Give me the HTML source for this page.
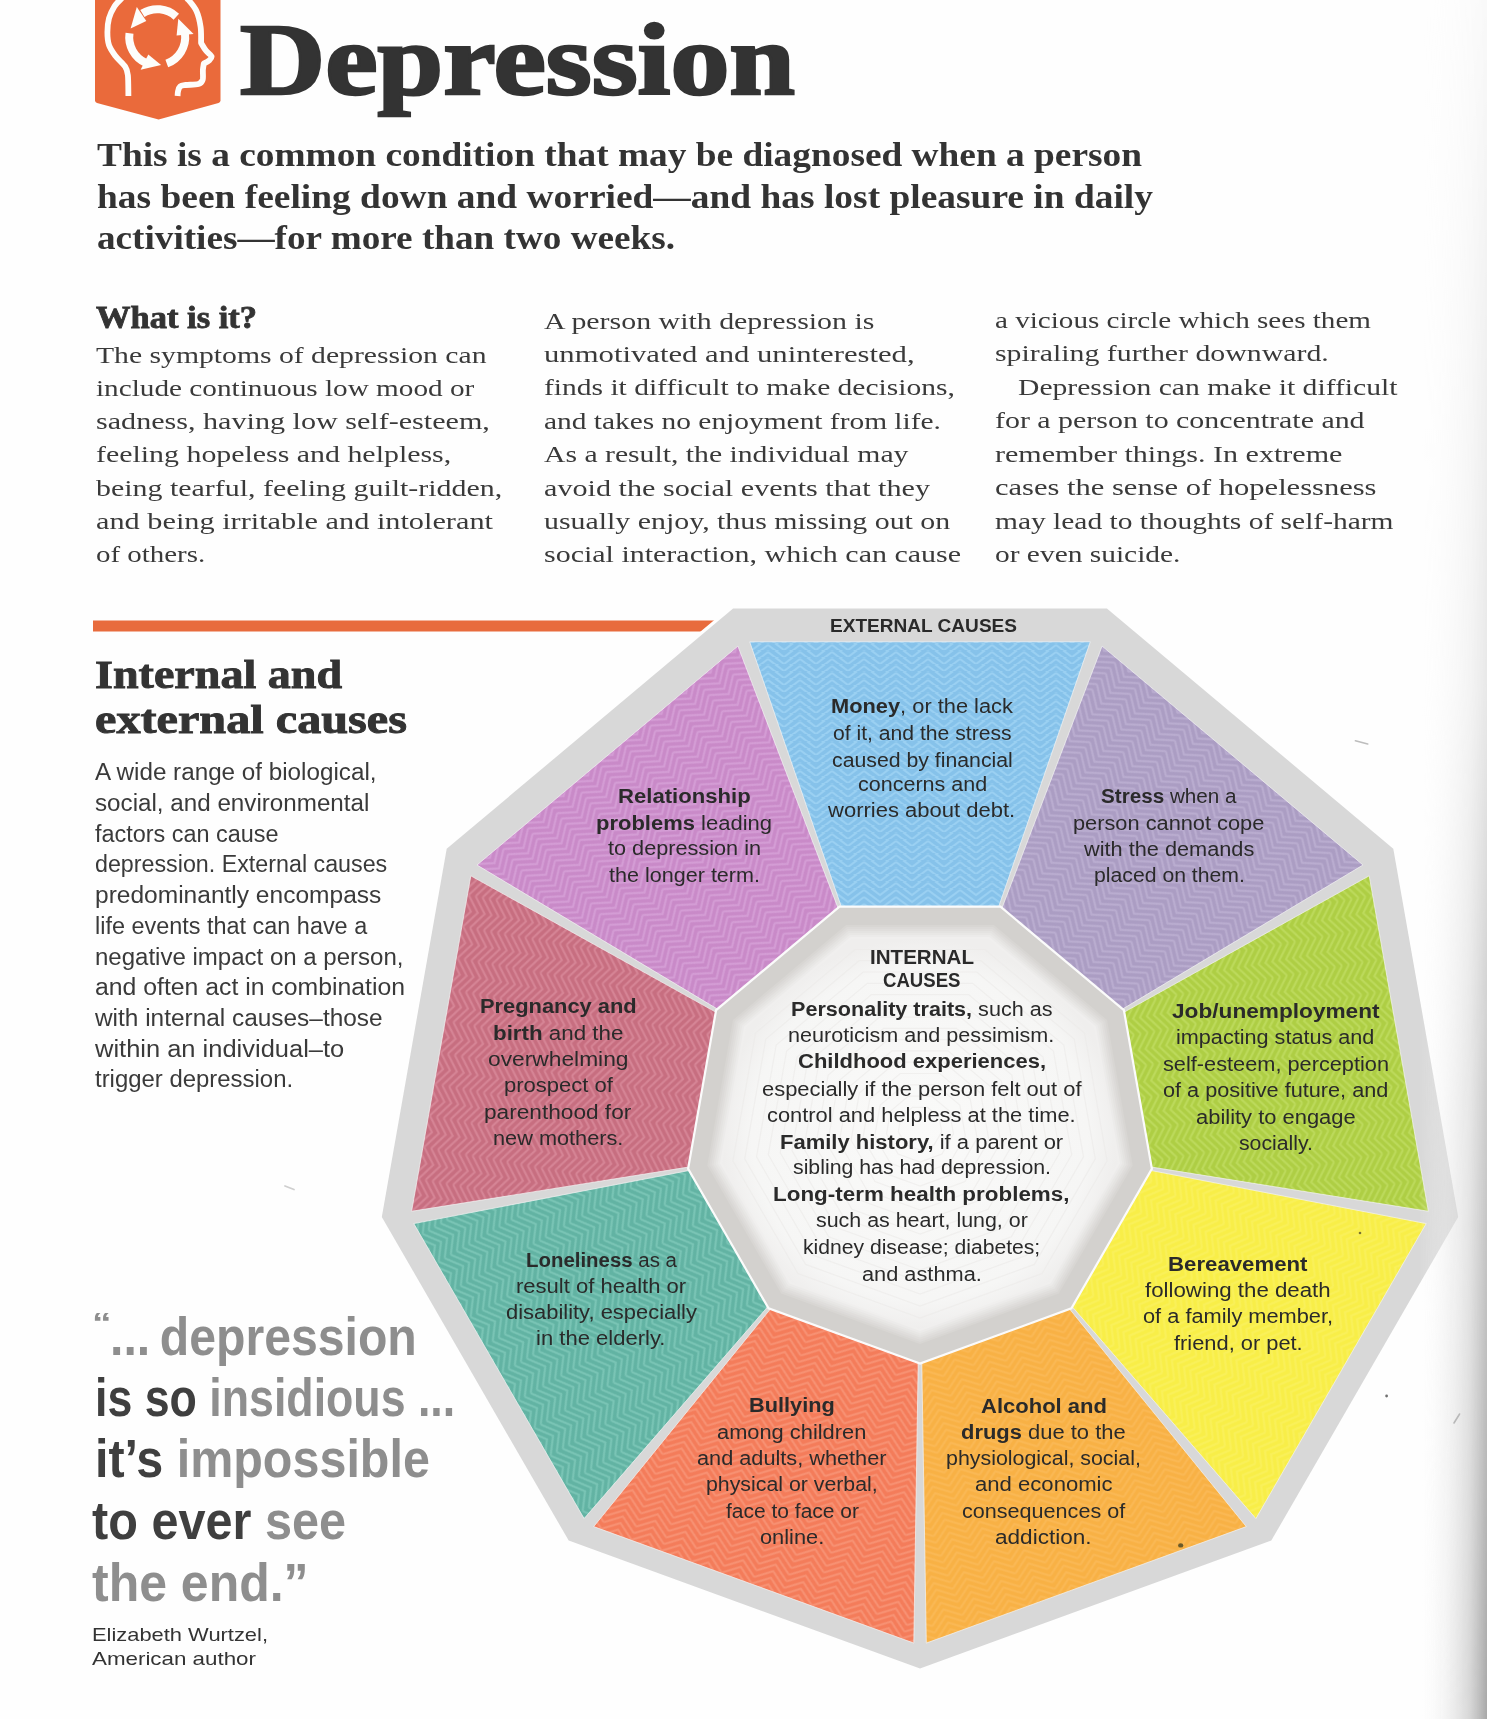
<!DOCTYPE html>
<html><head><meta charset="utf-8"><title>Depression</title>
<style>
html,body{margin:0;padding:0;background:#fefefe;}
#page{position:relative;width:1487px;height:1719px;overflow:hidden;background:#fefefe;}
.t{position:absolute;white-space:nowrap;line-height:1;transform-origin:0 0;}
.t b{font-weight:700;}
</style></head><body><div id="page">
<svg width="1487" height="1719" viewBox="0 0 1487 1719" style="position:absolute;left:0;top:0"><defs><pattern id="p0" width="32.0" height="7.0" patternUnits="userSpaceOnUse" patternTransform="rotate(20)"><rect width="32.0" height="7.0" fill="#f47c5a"/><g fill="none" stroke="#f99f84" stroke-width="2.1" opacity="0.6" stroke-linejoin="miter"><polyline points="0,-15.0 16.0,-27.0 32.0,-15.0"/><polyline points="0,-8.0 16.0,-20.0 32.0,-8.0"/><polyline points="0,-1.0 16.0,-13.0 32.0,-1.0"/><polyline points="0,6.0 16.0,-6.0 32.0,6.0"/><polyline points="0,13.0 16.0,1.0 32.0,13.0"/><polyline points="0,20.0 16.0,8.0 32.0,20.0"/><polyline points="0,27.0 16.0,15.0 32.0,27.0"/><polyline points="0,34.0 16.0,22.0 32.0,34.0"/></g></pattern><pattern id="p1" width="32.0" height="7.0" patternUnits="userSpaceOnUse" patternTransform="rotate(60)"><rect width="32.0" height="7.0" fill="#62b3a3"/><g fill="none" stroke="#8ad0c2" stroke-width="2.1" opacity="0.6" stroke-linejoin="miter"><polyline points="0,-15.0 16.0,-27.0 32.0,-15.0"/><polyline points="0,-8.0 16.0,-20.0 32.0,-8.0"/><polyline points="0,-1.0 16.0,-13.0 32.0,-1.0"/><polyline points="0,6.0 16.0,-6.0 32.0,6.0"/><polyline points="0,13.0 16.0,1.0 32.0,13.0"/><polyline points="0,20.0 16.0,8.0 32.0,20.0"/><polyline points="0,27.0 16.0,15.0 32.0,27.0"/><polyline points="0,34.0 16.0,22.0 32.0,34.0"/></g></pattern><pattern id="p2" width="32.0" height="7.0" patternUnits="userSpaceOnUse" patternTransform="rotate(100)"><rect width="32.0" height="7.0" fill="#c76e80"/><g fill="none" stroke="#e094a4" stroke-width="2.1" opacity="0.6" stroke-linejoin="miter"><polyline points="0,-15.0 16.0,-27.0 32.0,-15.0"/><polyline points="0,-8.0 16.0,-20.0 32.0,-8.0"/><polyline points="0,-1.0 16.0,-13.0 32.0,-1.0"/><polyline points="0,6.0 16.0,-6.0 32.0,6.0"/><polyline points="0,13.0 16.0,1.0 32.0,13.0"/><polyline points="0,20.0 16.0,8.0 32.0,20.0"/><polyline points="0,27.0 16.0,15.0 32.0,27.0"/><polyline points="0,34.0 16.0,22.0 32.0,34.0"/></g></pattern><pattern id="p3" width="32.0" height="7.0" patternUnits="userSpaceOnUse" patternTransform="rotate(140)"><rect width="32.0" height="7.0" fill="#c98ac8"/><g fill="none" stroke="#dcaade" stroke-width="2.1" opacity="0.6" stroke-linejoin="miter"><polyline points="0,-15.0 16.0,-27.0 32.0,-15.0"/><polyline points="0,-8.0 16.0,-20.0 32.0,-8.0"/><polyline points="0,-1.0 16.0,-13.0 32.0,-1.0"/><polyline points="0,6.0 16.0,-6.0 32.0,6.0"/><polyline points="0,13.0 16.0,1.0 32.0,13.0"/><polyline points="0,20.0 16.0,8.0 32.0,20.0"/><polyline points="0,27.0 16.0,15.0 32.0,27.0"/><polyline points="0,34.0 16.0,22.0 32.0,34.0"/></g></pattern><pattern id="p4" width="32.0" height="7.0" patternUnits="userSpaceOnUse" patternTransform="rotate(180)"><rect width="32.0" height="7.0" fill="#86c2ea"/><g fill="none" stroke="#a6d8f6" stroke-width="2.1" opacity="0.6" stroke-linejoin="miter"><polyline points="0,-15.0 16.0,-27.0 32.0,-15.0"/><polyline points="0,-8.0 16.0,-20.0 32.0,-8.0"/><polyline points="0,-1.0 16.0,-13.0 32.0,-1.0"/><polyline points="0,6.0 16.0,-6.0 32.0,6.0"/><polyline points="0,13.0 16.0,1.0 32.0,13.0"/><polyline points="0,20.0 16.0,8.0 32.0,20.0"/><polyline points="0,27.0 16.0,15.0 32.0,27.0"/><polyline points="0,34.0 16.0,22.0 32.0,34.0"/></g></pattern><pattern id="p5" width="32.0" height="7.0" patternUnits="userSpaceOnUse" patternTransform="rotate(220)"><rect width="32.0" height="7.0" fill="#ab9dc3"/><g fill="none" stroke="#c4b8d8" stroke-width="2.1" opacity="0.6" stroke-linejoin="miter"><polyline points="0,-15.0 16.0,-27.0 32.0,-15.0"/><polyline points="0,-8.0 16.0,-20.0 32.0,-8.0"/><polyline points="0,-1.0 16.0,-13.0 32.0,-1.0"/><polyline points="0,6.0 16.0,-6.0 32.0,6.0"/><polyline points="0,13.0 16.0,1.0 32.0,13.0"/><polyline points="0,20.0 16.0,8.0 32.0,20.0"/><polyline points="0,27.0 16.0,15.0 32.0,27.0"/><polyline points="0,34.0 16.0,22.0 32.0,34.0"/></g></pattern><pattern id="p6" width="32.0" height="7.0" patternUnits="userSpaceOnUse" patternTransform="rotate(260)"><rect width="32.0" height="7.0" fill="#aece44"/><g fill="none" stroke="#c6e26c" stroke-width="2.1" opacity="0.6" stroke-linejoin="miter"><polyline points="0,-15.0 16.0,-27.0 32.0,-15.0"/><polyline points="0,-8.0 16.0,-20.0 32.0,-8.0"/><polyline points="0,-1.0 16.0,-13.0 32.0,-1.0"/><polyline points="0,6.0 16.0,-6.0 32.0,6.0"/><polyline points="0,13.0 16.0,1.0 32.0,13.0"/><polyline points="0,20.0 16.0,8.0 32.0,20.0"/><polyline points="0,27.0 16.0,15.0 32.0,27.0"/><polyline points="0,34.0 16.0,22.0 32.0,34.0"/></g></pattern><pattern id="p7" width="32.0" height="7.0" patternUnits="userSpaceOnUse" patternTransform="rotate(300)"><rect width="32.0" height="7.0" fill="#f8ee48"/><g fill="none" stroke="#faf266" stroke-width="2.1" opacity="0.6" stroke-linejoin="miter"><polyline points="0,-15.0 16.0,-27.0 32.0,-15.0"/><polyline points="0,-8.0 16.0,-20.0 32.0,-8.0"/><polyline points="0,-1.0 16.0,-13.0 32.0,-1.0"/><polyline points="0,6.0 16.0,-6.0 32.0,6.0"/><polyline points="0,13.0 16.0,1.0 32.0,13.0"/><polyline points="0,20.0 16.0,8.0 32.0,20.0"/><polyline points="0,27.0 16.0,15.0 32.0,27.0"/><polyline points="0,34.0 16.0,22.0 32.0,34.0"/></g></pattern><pattern id="p8" width="32.0" height="7.0" patternUnits="userSpaceOnUse" patternTransform="rotate(340)"><rect width="32.0" height="7.0" fill="#f8b145"/><g fill="none" stroke="#fbbd5e" stroke-width="2.1" opacity="0.6" stroke-linejoin="miter"><polyline points="0,-15.0 16.0,-27.0 32.0,-15.0"/><polyline points="0,-8.0 16.0,-20.0 32.0,-8.0"/><polyline points="0,-1.0 16.0,-13.0 32.0,-1.0"/><polyline points="0,6.0 16.0,-6.0 32.0,6.0"/><polyline points="0,13.0 16.0,1.0 32.0,13.0"/><polyline points="0,20.0 16.0,8.0 32.0,20.0"/><polyline points="0,27.0 16.0,15.0 32.0,27.0"/><polyline points="0,34.0 16.0,22.0 32.0,34.0"/></g></pattern><radialGradient id="rg" cx="50%" cy="50%" r="50%"><stop offset="0" stop-color="#fafaf9"/><stop offset="0.85" stop-color="#f6f6f5"/><stop offset="1" stop-color="#efeeed"/></radialGradient><linearGradient id="edge" gradientUnits="userSpaceOnUse" x1="1418" x2="1487" y1="0" y2="0"><stop offset="0" stop-color="#ffffff" stop-opacity="0"/><stop offset="0.4" stop-color="#ececec" stop-opacity="0.6"/><stop offset="0.75" stop-color="#d2d2d2" stop-opacity="0.9"/><stop offset="1" stop-color="#a8a8a8" stop-opacity="1"/></linearGradient><linearGradient id="edgev" gradientUnits="userSpaceOnUse" x1="0" x2="0" y1="0" y2="1719"><stop offset="0" stop-color="#fff" stop-opacity="0.06"/><stop offset="0.4" stop-color="#fff" stop-opacity="0.25"/><stop offset="0.65" stop-color="#fff" stop-opacity="0.6"/><stop offset="1" stop-color="#fff" stop-opacity="1"/></linearGradient><mask id="em"><rect x="1400" y="0" width="87" height="1719" fill="url(#edgev)"/></mask></defs><rect x="93" y="620.5" width="628" height="11" fill="#e86b3d"/><path d="M95,0 L220.5,0 L220.5,100.5 Q220.5,102.3 218.5,102.9 L158.6,119.5 L97,102.9 Q95,102.3 95,100.5 Z" fill="#ea6a3b"/><g fill="none" stroke="#fdfdfb" stroke-width="5.8" stroke-linecap="butt" stroke-linejoin="round"><path d="M128.4,96.0 C128.3,92.5 128.4,80.2 127.9,75.3 C127.4,70.4 127.3,69.9 125.2,66.7 C123.1,63.5 118.2,59.6 115.5,56.0 C112.8,52.4 110.3,49.2 109.0,45.2 C107.7,41.2 107.4,36.8 107.4,32.3 C107.4,27.8 107.8,22.6 109.0,18.3 C110.2,14.0 112.4,9.7 114.4,6.5 C116.4,3.3 118.4,1.4 121.0,-1.0 C123.6,-3.4 128.5,-6.8 130.0,-8.0"/><path d="M180.0,-8.0 C181.3,-6.8 184.9,-4.1 187.6,-1.0 C190.3,2.1 194.1,6.2 196.3,10.8 C198.5,15.4 199.8,21.5 200.6,26.9 C201.4,32.3 201.0,40.3 201.1,43.0 C201.9,44.3 204.2,48.4 205.9,50.6 C207.6,52.8 210.9,54.6 211.5,56.2 C212.1,57.8 210.5,59.1 209.2,60.3 C207.9,61.5 204.7,63.0 203.8,63.5 C203.7,64.6 203.1,67.3 202.9,70.0 C202.7,72.7 203.4,77.4 202.7,79.7 C201.9,82.0 201.3,83.1 198.4,84.0 C195.5,84.9 188.6,84.6 185.5,85.0 C182.4,85.4 181.3,85.4 180.1,86.5 C178.8,87.6 178.4,89.9 178.0,91.5 C177.6,93.1 177.7,95.2 177.6,96.0"/></g><g fill="none" stroke="#fdfdfb" stroke-width="8"><path d="M176.3,16.7 A28.0,28.0 0 0 0 142.4,13.5"/><path d="M129.5,33.3 A28.0,28.0 0 0 0 145.4,62.6"/><path d="M166.8,63.5 A28.0,28.0 0 0 0 185.0,33.8"/></g><g fill="#fdfdfb"><polygon points="146.3,21.0 136.8,6.9 130.6,28.5"/><polygon points="148.3,54.6 140.6,69.7 161.1,64.9"/><polygon points="176.6,35.5 193.6,34.0 178.3,18.8"/></g><polygon points="920.0,1672.0 566.5,1543.3 378.4,1217.5 443.7,847.0 731.9,605.2 1108.1,605.2 1396.3,847.0 1461.6,1217.5 1273.5,1543.3" fill="#fefefe"/><polygon points="920.0,1668.5 568.7,1540.6 381.8,1216.9 446.7,848.8 733.1,608.5 1106.9,608.5 1393.3,848.7 1458.2,1216.9 1271.3,1540.6" fill="#d8d8d8"/><polygon points="918.2,1362.9 913.8,1643.1 593.7,1526.6 770.4,1309.0" fill="url(#p0)" stroke="#f4f4f4" stroke-width="1" stroke-opacity="0.7"/><polygon points="767.7,1306.8 584.1,1518.6 413.8,1223.6 689.0,1170.5" fill="url(#p1)" stroke="#f4f4f4" stroke-width="1" stroke-opacity="0.7"/><polygon points="688.4,1167.1 411.6,1211.3 470.8,875.8 715.7,1012.1" fill="url(#p2)" stroke="#f4f4f4" stroke-width="1" stroke-opacity="0.7"/><polygon points="717.5,1009.1 477.0,865.0 737.9,646.1 838.0,907.9" fill="url(#p3)" stroke="#f4f4f4" stroke-width="1" stroke-opacity="0.7"/><polygon points="841.3,906.7 749.7,641.8 1090.3,641.8 998.7,906.7" fill="url(#p4)" stroke="#f4f4f4" stroke-width="1" stroke-opacity="0.7"/><polygon points="1002.0,907.9 1102.1,646.1 1363.0,865.0 1122.5,1009.1" fill="url(#p5)" stroke="#f4f4f4" stroke-width="1" stroke-opacity="0.7"/><polygon points="1124.3,1012.1 1369.2,875.8 1428.4,1211.3 1151.6,1167.1" fill="url(#p6)" stroke="#f4f4f4" stroke-width="1" stroke-opacity="0.7"/><polygon points="1151.0,1170.5 1426.2,1223.6 1255.9,1518.6 1072.3,1306.8" fill="url(#p7)" stroke="#f4f4f4" stroke-width="1" stroke-opacity="0.7"/><polygon points="1069.6,1309.0 1246.3,1526.6 926.3,1643.1 921.8,1362.9" fill="url(#p8)" stroke="#f4f4f4" stroke-width="1" stroke-opacity="0.7"/><polygon points="920.0,1363.5 768.6,1308.4 688.1,1168.9 716.1,1010.2 839.5,906.7 1000.5,906.7 1123.9,1010.2 1151.9,1168.9 1071.4,1308.4" fill="#d3d1ce" stroke="#fbfbfb" stroke-width="2.2"/><polygon points="920.0,1344.0 781.2,1293.5 707.3,1165.5 732.9,1020.0 846.1,925.0 993.9,925.0 1107.1,1020.0 1132.7,1165.5 1058.8,1293.5" fill="#d8d6d3"/><polygon points="920.0,1341.9 782.5,1291.8 709.4,1165.1 734.8,1021.1 846.9,927.0 993.1,927.0 1105.2,1021.1 1130.6,1165.1 1057.5,1291.8" fill="#dcdad8"/><polygon points="920.0,1339.7 783.9,1290.2 711.5,1164.8 736.7,1022.1 847.6,929.1 992.4,929.1 1103.3,1022.1 1128.5,1164.8 1056.1,1290.2" fill="#e0dedc"/><polygon points="920.0,1337.6 785.3,1288.5 713.6,1164.4 738.5,1023.2 848.3,931.1 991.7,931.1 1101.5,1023.2 1126.4,1164.4 1054.7,1288.5" fill="#e4e3e1"/><polygon points="920.0,1335.4 786.7,1286.9 715.7,1164.0 740.4,1024.3 849.1,933.1 990.9,933.1 1099.6,1024.3 1124.3,1164.0 1053.3,1286.9" fill="#e8e7e5"/><polygon points="920.0,1333.3 788.0,1285.3 717.8,1163.6 742.2,1025.4 849.8,935.1 990.2,935.1 1097.8,1025.4 1122.2,1163.6 1052.0,1285.3" fill="#ecebea"/><polygon points="920.0,1331.1 789.4,1283.6 719.9,1163.3 744.1,1026.4 850.5,937.1 989.5,937.1 1095.9,1026.4 1120.1,1163.3 1050.6,1283.6" fill="#f0efee"/><polygon points="920.0,1329.0 790.8,1282.0 722.1,1162.9 745.9,1027.5 851.3,939.1 988.7,939.1 1094.1,1027.5 1117.9,1162.9 1049.2,1282.0" fill="url(#rg)"/><polygon points="920.0,1318.0 797.9,1273.5 732.9,1161.0 755.5,1033.0 855.0,949.5 985.0,949.5 1084.5,1033.0 1107.1,1161.0 1042.1,1273.5" fill="none" stroke="#ebeae8" stroke-width="1.2" opacity="0.6"/><polygon points="920.0,1306.0 805.6,1264.4 744.7,1158.9 765.8,1039.0 859.1,960.7 980.9,960.7 1074.2,1039.0 1095.3,1158.9 1034.4,1264.4" fill="none" stroke="#ebeae8" stroke-width="1.2" opacity="0.6"/><polygon points="920.0,1294.0 813.3,1255.2 756.5,1156.8 776.2,1045.0 863.2,972.0 976.8,972.0 1063.8,1045.0 1083.5,1156.8 1026.7,1255.2" fill="none" stroke="#ebeae8" stroke-width="1.2" opacity="0.6"/><polygon points="920.0,1282.0 821.0,1246.0 768.3,1154.7 786.6,1051.0 867.3,983.3 972.7,983.3 1053.4,1051.0 1071.7,1154.7 1019.0,1246.0" fill="none" stroke="#ebeae8" stroke-width="1.2" opacity="0.6"/><polygon points="920.0,1270.0 828.7,1236.8 780.2,1152.7 797.0,1057.0 871.4,994.6 968.6,994.6 1043.0,1057.0 1059.8,1152.7 1011.3,1236.8" fill="none" stroke="#ebeae8" stroke-width="1.2" opacity="0.6"/><polygon points="920.0,1258.0 836.4,1227.6 792.0,1150.6 807.4,1063.0 875.5,1005.8 964.5,1005.8 1032.6,1063.0 1048.0,1150.6 1003.6,1227.6" fill="none" stroke="#ebeae8" stroke-width="1.2" opacity="0.6"/><polygon points="920.0,1246.0 844.2,1218.4 803.8,1148.5 817.8,1069.0 879.6,1017.1 960.4,1017.1 1022.2,1069.0 1036.2,1148.5 995.8,1218.4" fill="none" stroke="#ebeae8" stroke-width="1.2" opacity="0.6"/><polygon points="920.0,1234.0 851.9,1209.2 815.6,1146.4 828.2,1075.0 883.7,1028.4 956.3,1028.4 1011.8,1075.0 1024.4,1146.4 988.1,1209.2" fill="none" stroke="#ebeae8" stroke-width="1.2" opacity="0.6"/><polygon points="920.0,1222.0 859.6,1200.0 827.4,1144.3 838.6,1081.0 887.9,1039.7 952.1,1039.7 1001.4,1081.0 1012.6,1144.3 980.4,1200.0" fill="none" stroke="#ebeae8" stroke-width="1.2" opacity="0.6"/><polygon points="920.0,1210.0 867.3,1190.8 839.2,1142.2 849.0,1087.0 892.0,1050.9 948.0,1050.9 991.0,1087.0 1000.8,1142.2 972.7,1190.8" fill="none" stroke="#ebeae8" stroke-width="1.2" opacity="0.6"/><polygon points="920.0,1198.0 875.0,1181.6 851.1,1140.2 859.4,1093.0 896.1,1062.2 943.9,1062.2 980.6,1093.0 988.9,1140.2 965.0,1181.6" fill="none" stroke="#ebeae8" stroke-width="1.2" opacity="0.6"/><polygon points="920.0,1186.0 882.7,1172.4 862.9,1138.1 869.8,1099.0 900.2,1073.5 939.8,1073.5 970.2,1099.0 977.1,1138.1 957.3,1172.4" fill="none" stroke="#ebeae8" stroke-width="1.2" opacity="0.6"/><polygon points="920.0,1174.0 890.4,1163.2 874.7,1136.0 880.2,1105.0 904.3,1084.8 935.7,1084.8 959.8,1105.0 965.3,1136.0 949.6,1163.2" fill="none" stroke="#ebeae8" stroke-width="1.2" opacity="0.6"/><polygon points="920.0,1162.0 898.1,1154.0 886.5,1133.9 890.6,1111.0 908.4,1096.1 931.6,1096.1 949.4,1111.0 953.5,1133.9 941.9,1154.0" fill="none" stroke="#ebeae8" stroke-width="1.2" opacity="0.6"/><polygon points="920.0,1150.0 905.9,1144.9 898.3,1131.8 900.9,1117.0 912.5,1107.3 927.5,1107.3 939.1,1117.0 941.7,1131.8 934.1,1144.9" fill="none" stroke="#ebeae8" stroke-width="1.2" opacity="0.6"/><line x1="1454" y1="1423" x2="1459.6" y2="1414" stroke="#808080" stroke-width="1.6" stroke-linecap="round"/><circle cx="1386.6" cy="1396" r="1.4" fill="#707070"/><line x1="1355.4" y1="740.7" x2="1367.7" y2="744" stroke="#bdbdbd" stroke-width="1.6" stroke-linecap="round"/><ellipse cx="1180.7" cy="1545.4" rx="2.6" ry="2.2" fill="#6a5a2a"/><circle cx="1360" cy="1233" r="1.3" fill="#7a7430"/><line x1="285" y1="1186" x2="294" y2="1189.5" stroke="#cfcfcf" stroke-width="1.8" stroke-linecap="round"/><rect x="1400" y="0" width="87" height="1719" fill="url(#edge)" mask="url(#em)"/></svg>
<div class=t style="left:240.0px;top:10.4px;font-family:'Liberation Serif', serif;font-size:101px;font-weight:700;color:#333333;-webkit-text-stroke:2.6px #333333;transform:scaleX(1.1681)">Depression</div>
<div class=t style="left:97.0px;top:138.2px;font-family:'Liberation Serif', serif;font-size:34px;font-weight:700;color:#333333;transform:scaleX(1.0986)">This is a common condition that may be diagnosed when a person</div>
<div class=t style="left:97.0px;top:179.5px;font-family:'Liberation Serif', serif;font-size:34px;font-weight:700;color:#333333;transform:scaleX(1.1010)">has been feeling down and worried—and has lost pleasure in daily</div>
<div class=t style="left:97.0px;top:220.8px;font-family:'Liberation Serif', serif;font-size:34px;font-weight:700;color:#333333;transform:scaleX(1.0937)">activities—for more than two weeks.</div>
<div class=t style="left:96.0px;top:303.4px;font-family:'Liberation Serif', serif;font-size:30.5px;font-weight:700;color:#333333;-webkit-text-stroke:0.8px #333333;transform:scaleX(1.1311)">What is it?</div>
<div class=t style="left:95.5px;top:342.5px;font-family:'Liberation Serif', serif;font-size:24px;font-weight:400;color:#3a3a3a;transform:scaleX(1.2360)">The symptoms of depression can</div>
<div class=t style="left:95.5px;top:375.8px;font-family:'Liberation Serif', serif;font-size:24px;font-weight:400;color:#3a3a3a;transform:scaleX(1.2180)">include continuous low mood or</div>
<div class=t style="left:95.5px;top:409.1px;font-family:'Liberation Serif', serif;font-size:24px;font-weight:400;color:#3a3a3a;transform:scaleX(1.2546)">sadness, having low self-esteem,</div>
<div class=t style="left:95.5px;top:442.4px;font-family:'Liberation Serif', serif;font-size:24px;font-weight:400;color:#3a3a3a;transform:scaleX(1.2451)">feeling hopeless and helpless,</div>
<div class=t style="left:95.5px;top:475.7px;font-family:'Liberation Serif', serif;font-size:24px;font-weight:400;color:#3a3a3a;transform:scaleX(1.2465)">being tearful, feeling guilt-ridden,</div>
<div class=t style="left:95.5px;top:509.0px;font-family:'Liberation Serif', serif;font-size:24px;font-weight:400;color:#3a3a3a;transform:scaleX(1.2619)">and being irritable and intolerant</div>
<div class=t style="left:95.5px;top:542.3px;font-family:'Liberation Serif', serif;font-size:24px;font-weight:400;color:#3a3a3a;transform:scaleX(1.2050)">of others.</div>
<div class=t style="left:544.0px;top:308.6px;font-family:'Liberation Serif', serif;font-size:24px;font-weight:400;color:#3a3a3a;transform:scaleX(1.2453)">A person with depression is</div>
<div class=t style="left:544.0px;top:342.0px;font-family:'Liberation Serif', serif;font-size:24px;font-weight:400;color:#3a3a3a;transform:scaleX(1.2783)">unmotivated and uninterested,</div>
<div class=t style="left:544.0px;top:375.4px;font-family:'Liberation Serif', serif;font-size:24px;font-weight:400;color:#3a3a3a;transform:scaleX(1.2293)">finds it difficult to make decisions,</div>
<div class=t style="left:544.0px;top:408.8px;font-family:'Liberation Serif', serif;font-size:24px;font-weight:400;color:#3a3a3a;transform:scaleX(1.2254)">and takes no enjoyment from life.</div>
<div class=t style="left:544.0px;top:442.2px;font-family:'Liberation Serif', serif;font-size:24px;font-weight:400;color:#3a3a3a;transform:scaleX(1.2369)">As a result, the individual may</div>
<div class=t style="left:544.0px;top:475.6px;font-family:'Liberation Serif', serif;font-size:24px;font-weight:400;color:#3a3a3a;transform:scaleX(1.2563)">avoid the social events that they</div>
<div class=t style="left:544.0px;top:509.0px;font-family:'Liberation Serif', serif;font-size:24px;font-weight:400;color:#3a3a3a;transform:scaleX(1.2443)">usually enjoy, thus missing out on</div>
<div class=t style="left:544.0px;top:542.4px;font-family:'Liberation Serif', serif;font-size:24px;font-weight:400;color:#3a3a3a;transform:scaleX(1.2490)">social interaction, which can cause</div>
<div class=t style="left:995.0px;top:307.7px;font-family:'Liberation Serif', serif;font-size:24px;font-weight:400;color:#3a3a3a;transform:scaleX(1.2133)">a vicious circle which sees them</div>
<div class=t style="left:995.0px;top:341.2px;font-family:'Liberation Serif', serif;font-size:24px;font-weight:400;color:#3a3a3a;transform:scaleX(1.2426)">spiraling further downward.</div>
<div class=t style="left:1017.5px;top:374.7px;font-family:'Liberation Serif', serif;font-size:24px;font-weight:400;color:#3a3a3a;transform:scaleX(1.2343)">Depression can make it difficult</div>
<div class=t style="left:995.0px;top:408.2px;font-family:'Liberation Serif', serif;font-size:24px;font-weight:400;color:#3a3a3a;transform:scaleX(1.2463)">for a person to concentrate and</div>
<div class=t style="left:995.0px;top:441.7px;font-family:'Liberation Serif', serif;font-size:24px;font-weight:400;color:#3a3a3a;transform:scaleX(1.2531)">remember things. In extreme</div>
<div class=t style="left:995.0px;top:475.2px;font-family:'Liberation Serif', serif;font-size:24px;font-weight:400;color:#3a3a3a;transform:scaleX(1.2720)">cases the sense of hopelessness</div>
<div class=t style="left:995.0px;top:508.7px;font-family:'Liberation Serif', serif;font-size:24px;font-weight:400;color:#3a3a3a;transform:scaleX(1.2278)">may lead to thoughts of self-harm</div>
<div class=t style="left:995.0px;top:542.2px;font-family:'Liberation Serif', serif;font-size:24px;font-weight:400;color:#3a3a3a;transform:scaleX(1.2259)">or even suicide.</div>
<div class=t style="left:94.8px;top:655.2px;font-family:'Liberation Serif', serif;font-size:40.8px;font-weight:700;color:#333333;-webkit-text-stroke:0.9px #333333;transform:scaleX(1.1291)">Internal and</div>
<div class=t style="left:94.8px;top:700.0px;font-family:'Liberation Serif', serif;font-size:40.8px;font-weight:700;color:#333333;-webkit-text-stroke:0.9px #333333;transform:scaleX(1.1818)">external causes</div>
<div class=t style="left:94.5px;top:761.3px;font-family:'Liberation Sans', sans-serif;font-size:23.5px;font-weight:400;color:#3a3a3a;transform:scaleX(1.0310)">A wide range of biological,</div>
<div class=t style="left:94.5px;top:792.0px;font-family:'Liberation Sans', sans-serif;font-size:23.5px;font-weight:400;color:#3a3a3a;transform:scaleX(1.0296)">social, and environmental</div>
<div class=t style="left:94.5px;top:822.7px;font-family:'Liberation Sans', sans-serif;font-size:23.5px;font-weight:400;color:#3a3a3a;transform:scaleX(0.9968)">factors can cause</div>
<div class=t style="left:94.5px;top:853.4px;font-family:'Liberation Sans', sans-serif;font-size:23.5px;font-weight:400;color:#3a3a3a;transform:scaleX(0.9898)">depression. External causes</div>
<div class=t style="left:94.5px;top:884.1px;font-family:'Liberation Sans', sans-serif;font-size:23.5px;font-weight:400;color:#3a3a3a;transform:scaleX(1.0437)">predominantly encompass</div>
<div class=t style="left:94.5px;top:914.8px;font-family:'Liberation Sans', sans-serif;font-size:23.5px;font-weight:400;color:#3a3a3a;transform:scaleX(0.9969)">life events that can have a</div>
<div class=t style="left:94.5px;top:945.5px;font-family:'Liberation Sans', sans-serif;font-size:23.5px;font-weight:400;color:#3a3a3a;transform:scaleX(1.0223)">negative impact on a person,</div>
<div class=t style="left:94.5px;top:976.2px;font-family:'Liberation Sans', sans-serif;font-size:23.5px;font-weight:400;color:#3a3a3a;transform:scaleX(1.0546)">and often act in combination</div>
<div class=t style="left:94.5px;top:1006.9px;font-family:'Liberation Sans', sans-serif;font-size:23.5px;font-weight:400;color:#3a3a3a;transform:scaleX(1.0384)">with internal causes–those</div>
<div class=t style="left:94.5px;top:1037.6px;font-family:'Liberation Sans', sans-serif;font-size:23.5px;font-weight:400;color:#3a3a3a;transform:scaleX(1.0838)">within an individual–to</div>
<div class=t style="left:94.5px;top:1068.3px;font-family:'Liberation Sans', sans-serif;font-size:23.5px;font-weight:400;color:#3a3a3a;transform:scaleX(1.0178)">trigger depression.</div>
<div class=t style="left:92.4px;top:1308.1px;font-family:'Liberation Sans', sans-serif;font-size:30px;font-weight:700;color:#2a2a2a;transform:scaleX(1.3000)"><span style='color:#8e8e8e'>“</span></div>
<div class=t style="left:109.5px;top:1310.2px;font-family:'Liberation Sans', sans-serif;font-size:53px;font-weight:700;color:#2a2a2a;transform:scaleX(0.9089)"><span style='color:#8e8e8e'>... depression</span></div>
<div class=t style="left:94.8px;top:1370.9px;font-family:'Liberation Sans', sans-serif;font-size:53px;font-weight:700;color:#2a2a2a;transform:scaleX(0.8435)"><span style='color:#3f3f3f'>is so </span><span style='color:#8e8e8e'>insidious ...</span></div>
<div class=t style="left:94.8px;top:1432.1px;font-family:'Liberation Sans', sans-serif;font-size:53px;font-weight:700;color:#2a2a2a;transform:scaleX(0.9145)"><span style='color:#3f3f3f'>it’s </span><span style='color:#8e8e8e'>impossible</span></div>
<div class=t style="left:92.0px;top:1494.1px;font-family:'Liberation Sans', sans-serif;font-size:53px;font-weight:700;color:#2a2a2a;transform:scaleX(0.9171)"><span style='color:#3f3f3f'>to ever </span><span style='color:#8e8e8e'>see</span></div>
<div class=t style="left:92.0px;top:1555.6px;font-family:'Liberation Sans', sans-serif;font-size:53px;font-weight:700;color:#2a2a2a;transform:scaleX(0.9430)"><span style='color:#8e8e8e'>the end.”</span></div>
<div class=t style="left:92.0px;top:1624.9px;font-family:'Liberation Sans', sans-serif;font-size:19px;font-weight:400;color:#333333;transform:scaleX(1.1520)">Elizabeth Wurtzel,</div>
<div class=t style="left:92.0px;top:1649.4px;font-family:'Liberation Sans', sans-serif;font-size:19px;font-weight:400;color:#333333;transform:scaleX(1.1764)">American author</div>
<div class=t style="left:830.0px;top:615.7px;font-family:'Liberation Sans', sans-serif;font-size:19px;font-weight:400;color:#2a2a2a;transform:scaleX(1.0026)"><b>EXTERNAL CAUSES</b></div>
<div class=t style="left:831.0px;top:696.5px;font-family:'Liberation Sans', sans-serif;font-size:19.5px;font-weight:400;color:#2a2a2a;transform:scaleX(1.1190)"><b>Money</b>, or the lack</div>
<div class=t style="left:832.7px;top:723.5px;font-family:'Liberation Sans', sans-serif;font-size:19.5px;font-weight:400;color:#2a2a2a;transform:scaleX(1.0840)">of it, and the stress</div>
<div class=t style="left:831.6px;top:750.5px;font-family:'Liberation Sans', sans-serif;font-size:19.5px;font-weight:400;color:#2a2a2a;transform:scaleX(1.0901)">caused by financial</div>
<div class=t style="left:857.5px;top:775.0px;font-family:'Liberation Sans', sans-serif;font-size:19.5px;font-weight:400;color:#2a2a2a;transform:scaleX(1.1027)">concerns and</div>
<div class=t style="left:828.4px;top:800.5px;font-family:'Liberation Sans', sans-serif;font-size:19.5px;font-weight:400;color:#2a2a2a;transform:scaleX(1.1287)">worries about debt.</div>
<div class=t style="left:617.6px;top:786.8px;font-family:'Liberation Sans', sans-serif;font-size:19.5px;font-weight:400;color:#2a2a2a;transform:scaleX(1.1340)"><b>Relationship</b></div>
<div class=t style="left:596.0px;top:813.5px;font-family:'Liberation Sans', sans-serif;font-size:19.5px;font-weight:400;color:#2a2a2a;transform:scaleX(1.1275)"><b>problems</b> leading</div>
<div class=t style="left:607.5px;top:839.3px;font-family:'Liberation Sans', sans-serif;font-size:19.5px;font-weight:400;color:#2a2a2a;transform:scaleX(1.1113)">to depression in</div>
<div class=t style="left:608.5px;top:865.9px;font-family:'Liberation Sans', sans-serif;font-size:19.5px;font-weight:400;color:#2a2a2a;transform:scaleX(1.1056)">the longer term.</div>
<div class=t style="left:1101.2px;top:787.4px;font-family:'Liberation Sans', sans-serif;font-size:19.5px;font-weight:400;color:#2a2a2a;transform:scaleX(1.0599)"><b>Stress</b> when a</div>
<div class=t style="left:1073.3px;top:814.0px;font-family:'Liberation Sans', sans-serif;font-size:19.5px;font-weight:400;color:#2a2a2a;transform:scaleX(1.1168)">person cannot cope</div>
<div class=t style="left:1083.8px;top:839.8px;font-family:'Liberation Sans', sans-serif;font-size:19.5px;font-weight:400;color:#2a2a2a;transform:scaleX(1.1142)">with the demands</div>
<div class=t style="left:1093.5px;top:865.7px;font-family:'Liberation Sans', sans-serif;font-size:19.5px;font-weight:400;color:#2a2a2a;transform:scaleX(1.0874)">placed on them.</div>
<div class=t style="left:479.6px;top:997.4px;font-family:'Liberation Sans', sans-serif;font-size:19.5px;font-weight:400;color:#2a2a2a;transform:scaleX(1.1209)"><b>Pregnancy and</b></div>
<div class=t style="left:492.8px;top:1023.6px;font-family:'Liberation Sans', sans-serif;font-size:19.5px;font-weight:400;color:#2a2a2a;transform:scaleX(1.1457)"><b>birth</b> and the</div>
<div class=t style="left:487.8px;top:1049.9px;font-family:'Liberation Sans', sans-serif;font-size:19.5px;font-weight:400;color:#2a2a2a;transform:scaleX(1.1678)">overwhelming</div>
<div class=t style="left:503.5px;top:1076.1px;font-family:'Liberation Sans', sans-serif;font-size:19.5px;font-weight:400;color:#2a2a2a;transform:scaleX(1.1297)">prospect of</div>
<div class=t style="left:484.4px;top:1103.0px;font-family:'Liberation Sans', sans-serif;font-size:19.5px;font-weight:400;color:#2a2a2a;transform:scaleX(1.1611)">parenthood for</div>
<div class=t style="left:492.8px;top:1129.2px;font-family:'Liberation Sans', sans-serif;font-size:19.5px;font-weight:400;color:#2a2a2a;transform:scaleX(1.1139)">new mothers.</div>
<div class=t style="left:869.5px;top:947.5px;font-family:'Liberation Sans', sans-serif;font-size:19.5px;font-weight:400;color:#2a2a2a;transform:scaleX(1.0550)"><b>INTERNAL</b></div>
<div class=t style="left:882.8px;top:970.5px;font-family:'Liberation Sans', sans-serif;font-size:19.5px;font-weight:400;color:#2a2a2a;transform:scaleX(0.9535)"><b>CAUSES</b></div>
<div class=t style="left:790.8px;top:999.6px;font-family:'Liberation Sans', sans-serif;font-size:19.5px;font-weight:400;color:#2a2a2a;transform:scaleX(1.1067)"><b>Personality traits,</b> such as</div>
<div class=t style="left:788.4px;top:1026.2px;font-family:'Liberation Sans', sans-serif;font-size:19.5px;font-weight:400;color:#2a2a2a;transform:scaleX(1.1068)">neuroticism and pessimism.</div>
<div class=t style="left:797.5px;top:1051.6px;font-family:'Liberation Sans', sans-serif;font-size:19.5px;font-weight:400;color:#2a2a2a;transform:scaleX(1.1274)"><b>Childhood experiences,</b></div>
<div class=t style="left:761.8px;top:1079.5px;font-family:'Liberation Sans', sans-serif;font-size:19.5px;font-weight:400;color:#2a2a2a;transform:scaleX(1.1250)">especially if the person felt out of</div>
<div class=t style="left:767.1px;top:1106.1px;font-family:'Liberation Sans', sans-serif;font-size:19.5px;font-weight:400;color:#2a2a2a;transform:scaleX(1.1212)">control and helpless at the time.</div>
<div class=t style="left:779.9px;top:1132.5px;font-family:'Liberation Sans', sans-serif;font-size:19.5px;font-weight:400;color:#2a2a2a;transform:scaleX(1.1279)"><b>Family history,</b> if a parent or</div>
<div class=t style="left:792.5px;top:1158.0px;font-family:'Liberation Sans', sans-serif;font-size:19.5px;font-weight:400;color:#2a2a2a;transform:scaleX(1.0917)">sibling has had depression.</div>
<div class=t style="left:773.2px;top:1184.6px;font-family:'Liberation Sans', sans-serif;font-size:19.5px;font-weight:400;color:#2a2a2a;transform:scaleX(1.1499)"><b>Long-term health problems,</b></div>
<div class=t style="left:815.6px;top:1211.2px;font-family:'Liberation Sans', sans-serif;font-size:19.5px;font-weight:400;color:#2a2a2a;transform:scaleX(1.0977)">such as heart, lung, or</div>
<div class=t style="left:802.9px;top:1237.8px;font-family:'Liberation Sans', sans-serif;font-size:19.5px;font-weight:400;color:#2a2a2a;transform:scaleX(1.0832)">kidney disease; diabetes;</div>
<div class=t style="left:861.6px;top:1264.5px;font-family:'Liberation Sans', sans-serif;font-size:19.5px;font-weight:400;color:#2a2a2a;transform:scaleX(1.1162)">and asthma.</div>
<div class=t style="left:1171.7px;top:1002.1px;font-family:'Liberation Sans', sans-serif;font-size:19.5px;font-weight:400;color:#2a2a2a;transform:scaleX(1.1612)"><b>Job/unemployment</b></div>
<div class=t style="left:1176.3px;top:1028.1px;font-family:'Liberation Sans', sans-serif;font-size:19.5px;font-weight:400;color:#2a2a2a;transform:scaleX(1.1093)">impacting status and</div>
<div class=t style="left:1162.5px;top:1055.0px;font-family:'Liberation Sans', sans-serif;font-size:19.5px;font-weight:400;color:#2a2a2a;transform:scaleX(1.1150)">self-esteem, perception</div>
<div class=t style="left:1162.8px;top:1081.1px;font-family:'Liberation Sans', sans-serif;font-size:19.5px;font-weight:400;color:#2a2a2a;transform:scaleX(1.1114)">of a positive future, and</div>
<div class=t style="left:1195.7px;top:1108.0px;font-family:'Liberation Sans', sans-serif;font-size:19.5px;font-weight:400;color:#2a2a2a;transform:scaleX(1.1244)">ability to engage</div>
<div class=t style="left:1238.5px;top:1134.1px;font-family:'Liberation Sans', sans-serif;font-size:19.5px;font-weight:400;color:#2a2a2a;transform:scaleX(1.0895)">socially.</div>
<div class=t style="left:525.5px;top:1250.9px;font-family:'Liberation Sans', sans-serif;font-size:19.5px;font-weight:400;color:#2a2a2a;transform:scaleX(1.0468)"><b>Loneliness</b> as a</div>
<div class=t style="left:516.0px;top:1276.8px;font-family:'Liberation Sans', sans-serif;font-size:19.5px;font-weight:400;color:#2a2a2a;transform:scaleX(1.1289)">result of health or</div>
<div class=t style="left:505.6px;top:1303.4px;font-family:'Liberation Sans', sans-serif;font-size:19.5px;font-weight:400;color:#2a2a2a;transform:scaleX(1.1243)">disability, especially</div>
<div class=t style="left:536.3px;top:1329.3px;font-family:'Liberation Sans', sans-serif;font-size:19.5px;font-weight:400;color:#2a2a2a;transform:scaleX(1.1297)">in the elderly.</div>
<div class=t style="left:1168.2px;top:1255.1px;font-family:'Liberation Sans', sans-serif;font-size:19.5px;font-weight:400;color:#2a2a2a;transform:scaleX(1.1389)"><b>Bereavement</b></div>
<div class=t style="left:1145.2px;top:1281.0px;font-family:'Liberation Sans', sans-serif;font-size:19.5px;font-weight:400;color:#2a2a2a;transform:scaleX(1.1419)">following the death</div>
<div class=t style="left:1143.0px;top:1306.9px;font-family:'Liberation Sans', sans-serif;font-size:19.5px;font-weight:400;color:#2a2a2a;transform:scaleX(1.1173)">of a family member,</div>
<div class=t style="left:1173.7px;top:1333.5px;font-family:'Liberation Sans', sans-serif;font-size:19.5px;font-weight:400;color:#2a2a2a;transform:scaleX(1.1200)">friend, or pet.</div>
<div class=t style="left:749.1px;top:1396.3px;font-family:'Liberation Sans', sans-serif;font-size:19.5px;font-weight:400;color:#2a2a2a;transform:scaleX(1.1154)"><b>Bullying</b></div>
<div class=t style="left:717.4px;top:1422.6px;font-family:'Liberation Sans', sans-serif;font-size:19.5px;font-weight:400;color:#2a2a2a;transform:scaleX(1.1197)">among children</div>
<div class=t style="left:697.2px;top:1448.9px;font-family:'Liberation Sans', sans-serif;font-size:19.5px;font-weight:400;color:#2a2a2a;transform:scaleX(1.1134)">and adults, whether</div>
<div class=t style="left:706.1px;top:1475.2px;font-family:'Liberation Sans', sans-serif;font-size:19.5px;font-weight:400;color:#2a2a2a;transform:scaleX(1.0925)">physical or verbal,</div>
<div class=t style="left:725.5px;top:1501.5px;font-family:'Liberation Sans', sans-serif;font-size:19.5px;font-weight:400;color:#2a2a2a;transform:scaleX(1.0762)">face to face or</div>
<div class=t style="left:759.9px;top:1527.8px;font-family:'Liberation Sans', sans-serif;font-size:19.5px;font-weight:400;color:#2a2a2a;transform:scaleX(1.1171)">online.</div>
<div class=t style="left:980.5px;top:1397.1px;font-family:'Liberation Sans', sans-serif;font-size:19.5px;font-weight:400;color:#2a2a2a;transform:scaleX(1.1291)"><b>Alcohol and</b></div>
<div class=t style="left:961.1px;top:1422.6px;font-family:'Liberation Sans', sans-serif;font-size:19.5px;font-weight:400;color:#2a2a2a;transform:scaleX(1.1254)"><b>drugs</b> due to the</div>
<div class=t style="left:946.0px;top:1448.9px;font-family:'Liberation Sans', sans-serif;font-size:19.5px;font-weight:400;color:#2a2a2a;transform:scaleX(1.0964)">physiological, social,</div>
<div class=t style="left:974.7px;top:1475.2px;font-family:'Liberation Sans', sans-serif;font-size:19.5px;font-weight:400;color:#2a2a2a;transform:scaleX(1.1332)">and economic</div>
<div class=t style="left:961.9px;top:1501.5px;font-family:'Liberation Sans', sans-serif;font-size:19.5px;font-weight:400;color:#2a2a2a;transform:scaleX(1.1068)">consequences of</div>
<div class=t style="left:995.2px;top:1527.8px;font-family:'Liberation Sans', sans-serif;font-size:19.5px;font-weight:400;color:#2a2a2a;transform:scaleX(1.1571)">addiction.</div>
</div></body></html>
